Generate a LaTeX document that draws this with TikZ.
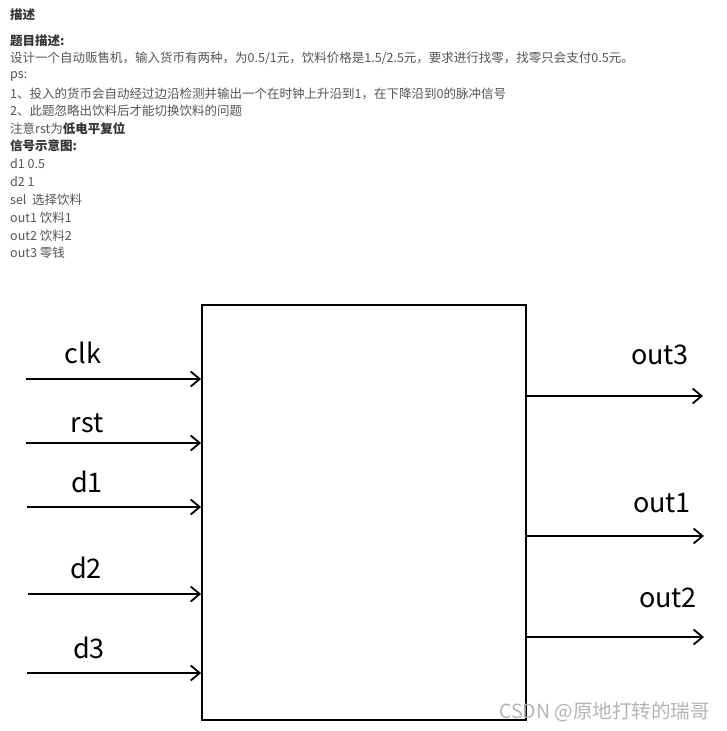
\documentclass[tikz,border=0pt]{standalone}
\usepackage{fontspec}
\setmainfont{Noto Sans CJK SC}
\usetikzlibrary{arrows.meta}
\definecolor{txt}{HTML}{555555}
\definecolor{txtb}{HTML}{333333}
\definecolor{wm}{HTML}{B4B4B4}
\begin{document}
\begin{tikzpicture}[x=1pt,y=-1pt,
  desc/.style={anchor=west,inner sep=0pt,font=\fontsize{12.5}{14}\selectfont,text=txt},
  descb/.style={desc,font=\fontsize{12.5}{14}\selectfont\bfseries,text=txtb},
  sig/.style={inner sep=0pt,font=\fontsize{27}{30}\selectfont},
  wire/.style={line width=1.8pt,-{Straight Barb[length=9pt,width=15pt,line width=1.8pt]}},
  blk/.style={draw,line width=1.8pt,minimum width=324pt,minimum height=415pt,inner sep=0pt}]
\useasboundingbox (0,0) rectangle (726,731);
\fill[white] (0,0) rectangle (726,731);
% description text
\node[descb] (t0) at (10,15) {描述};
\node[descb] (t1) at (10,41) {题目描述:};
\node[desc] (t2) at (10,58) {设计一个自动贩售机，输入货币有两种，为0.5/1元，饮料价格是1.5/2.5元，要求进行找零，找零只会支付0.5元。};
\node[desc] (t3) at (10,76) {ps:};
\node[desc] (t4) at (10,94) {1、投入的货币会自动经过边沿检测并输出一个在时钟上升沿到1，在下降沿到0的脉冲信号};
\node[desc] (t5) at (10,111) {2、此题忽略出饮料后才能切换饮料的问题};
\node[desc] (t6) at (10,129) {注意rst为{\bfseries\color{txtb}低电平复位}};
\node[descb] (t7) at (10,146) {信号示意图:};
\node[desc] (t8) at (10,164) {d1 0.5};
\node[desc] (t9) at (10,182) {d2 1};
\node[desc] (t10) at (10,200) {sel\ \ 选择饮料};
\node[desc] (t11) at (10,218) {out1 饮料1};
\node[desc] (t12) at (10,236) {out2 饮料2};
\node[desc] (t13) at (10,253) {out3 零钱};
% block
\node[blk] (box) at (364,512.5) {};
% inputs
\coordinate (iclk) at (26,379);
\coordinate (irst) at (26,443);
\coordinate (id1) at (27,507);
\coordinate (id2) at (28,594);
\coordinate (id3) at (27,673);
\draw[wire] (iclk) -- (iclk -| box.west);
\draw[wire] (irst) -- (irst -| box.west);
\draw[wire] (id1) -- (id1 -| box.west);
\draw[wire] (id2) -- (id2 -| box.west);
\draw[wire] (id3) -- (id3 -| box.west);
\node[sig] (lclk) at (83,353) {clk};
\node[sig] (lrst) at (87,423) {rst};
\node[sig] (ld1) at (87,482) {d1};
\node[sig] (ld2) at (86,568) {d2};
\node[sig] (ld3) at (89,648) {d3};
% outputs
\coordinate (oout3) at (703,396);
\coordinate (oout1) at (704,536);
\coordinate (oout2) at (704,637);
\draw[wire] (oout3 -| box.east) -- (oout3);
\draw[wire] (oout1 -| box.east) -- (oout1);
\draw[wire] (oout2 -| box.east) -- (oout2);
\node[sig] (lout3) at (660,355) {out3};
\node[sig] (lout1) at (662,503) {out1};
\node[sig] (lout2) at (668,598) {out2};
% watermark
\node[inner sep=0pt,anchor=east,font=\fontsize{19.5}{21}\selectfont,text=wm] (wmk) at (710,712) {CSDN @原地打转的瑞哥};
\end{tikzpicture}
\end{document}
